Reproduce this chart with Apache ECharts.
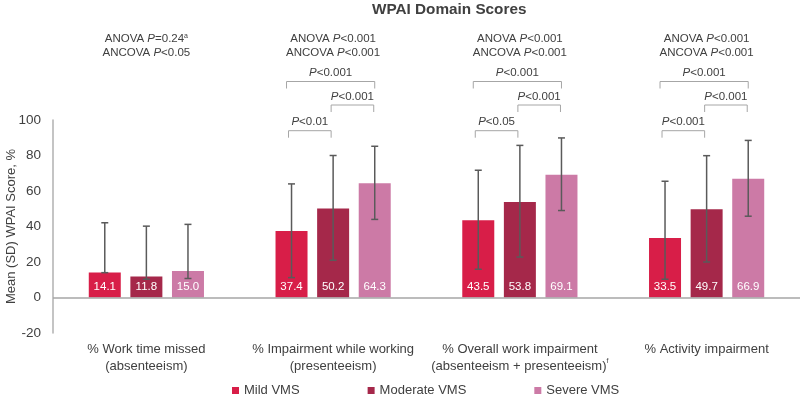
<!DOCTYPE html>
<html><head><meta charset="utf-8">
<script src="https://cdn.jsdelivr.net/npm/echarts@6/dist/echarts.min.js"></script>
<style>html,body{margin:0;padding:0;background:#fff}#c{width:800px;height:400px}</style>
</head><body><div id="c"></div>
<script>
// ---- data ----
const categories = ['% Work time missed\n(absenteeism)', '% Impairment while working\n(presenteeism)', '% Overall work impairment\n(absenteeism + presenteeism)', '% Activity impairment'];
const categoryFootnotes = ['', '', 'f', ''];
const seriesNames = ['Mild VMS', 'Moderate VMS', 'Severe VMS'];
const mild = [14.1, 37.4, 43.5, 33.5];
const moderate = [11.8, 50.2, 53.8, 49.7];
const severe = [15.0, 64.3, 69.1, 66.9];
const mildLow = [14.0, 11.2, 15.9, 10.3];
const mildHigh = [42.1, 64.0, 71.7, 65.5];
const moderateLow = [10.3, 21.0, 22.8, 20.0];
const moderateHigh = [40.2, 80.0, 85.7, 79.9];
const severeLow = [10.7, 44.0, 49.0, 45.8];
const severeHigh = [41.2, 85.2, 89.9, 88.5];
const yMin = -20, yMax = 100, yInterval = 20;
const anovaP = ['=0.24', '<0.001', '<0.001', '<0.001'];
const anovaSup = ['a', '', '', ''];
const ancovaP = ['<0.05', '<0.001', '<0.001', '<0.001'];
const pMildSevere = [null, '<0.001', '<0.001', '<0.001'];
const pModSevere = [null, '<0.001', '<0.001', '<0.001'];
const pMildMod = [null, '<0.01', '<0.05', '<0.001'];

// ---- style ----
const FONT = '"Liberation Sans", Arial, Helvetica, sans-serif';
const TXT = '#404040';
const colors = ['#D81E48', '#A5284A', '#CC7AA6'];
const BAR_W = 32, BAR_GAP = 0.3;
const OFFSET = BAR_W * (1 + BAR_GAP);
const richP = {
  i: {fontStyle: 'italic', fontSize: 11.5, fontFamily: FONT, fill: TXT, color: TXT},
  n: {fontSize: 11.5, fontFamily: FONT, fill: TXT, color: TXT},
  sup: {fontSize: 7, fontFamily: FONT, fill: TXT, color: TXT, verticalAlign: 'top', lineHeight: 8}
};

const chart = echarts.init(document.getElementById('c'), null, {renderer: 'canvas'});

const valueSets = [mild, moderate, severe];
const lowSets = [mildLow, moderateLow, severeLow];
const highSets = [mildHigh, moderateHigh, severeHigh];

const barSeries = seriesNames.map((name, s) => ({
  name, type: 'bar', data: valueSets[s], barWidth: BAR_W, barGap: (BAR_GAP * 100) + '%',
  itemStyle: {color: colors[s]},
  label: {show: true, position: 'insideBottom', distance: 5, color: '#fff', fontSize: 11.5, fontFamily: FONT,
    formatter: p => Number(p.value).toFixed(1)},
  markLine: s === 0 ? {silent: true, symbol: 'none', label: {show: false}, animation: false,
    lineStyle: {color: '#a6a6a6', width: 1.5, type: 'solid'}, data: [{yAxis: 0}]} : undefined
}));

const errSeries = seriesNames.map((name, s) => ({
  name: name + ' SD', type: 'custom', z: 3,
  data: categories.map((c, i) => [i, lowSets[s][i], highSets[s][i]]),
  encode: {x: 0, y: [1, 2]},
  renderItem: (params, api) => {
    const i = api.value(0);
    const x = api.coord([i, 0])[0] + (s - 1) * OFFSET;
    const yl = api.coord([i, api.value(1)])[1];
    const yh = api.coord([i, api.value(2)])[1];
    const st = {stroke: '#5a5a5a', lineWidth: 1.5};
    return {type: 'group', children: [
      {type: 'line', shape: {x1: x, y1: yl, x2: x, y2: yh}, style: st},
      {type: 'line', shape: {x1: x - 3.5, y1: yh, x2: x + 3.5, y2: yh}, style: st},
      {type: 'line', shape: {x1: x - 3.5, y1: yl, x2: x + 3.5, y2: yl}, style: st}
    ]};
  }
}));

function txt(x, y, text) {
  return {type: 'text', x, y, style: {text, align: 'center', verticalAlign: 'middle',
    fontSize: 11.5, fontFamily: FONT, fill: TXT, rich: richP}};
}
function bracket(x1, x2, y, label) {
  return [
    {type: 'polyline', shape: {points: [[x1, y + 7], [x1, y], [x2, y], [x2, y + 7]]},
      style: {stroke: '#a6a6a6', lineWidth: 1, fill: 'none'}},
    txt((x1 + x2) / 2, y - 8.5, '{i|P}{n|' + label + '}')
  ];
}

const annoSeries = {
  name: 'annotations', type: 'custom', clip: false, silent: true,
  data: categories.map((c, i) => [i, 0]),
  encode: {x: 0, y: 1},
  renderItem: (params, api) => {
    const i = api.value(0);
    const p = api.coord([i, yMax]);
    const cx = p[0], yTop = p[1];
    let ch = [
      txt(cx, yTop - 81, '{n|ANOVA }{i|P}{n|' + anovaP[i] + '}' + (anovaSup[i] ? '{sup|' + anovaSup[i] + '}' : '')),
      txt(cx, yTop - 67, '{n|ANCOVA }{i|P}{n|' + ancovaP[i] + '}')
    ];
    if (pMildSevere[i]) ch = ch.concat(bracket(cx - OFFSET - 5, cx + OFFSET, yTop - 38.5, pMildSevere[i]));
    if (pModSevere[i]) ch = ch.concat(bracket(cx - 2, cx + OFFSET - 1, yTop - 15, pModSevere[i]));
    if (pMildMod[i]) ch = ch.concat(bracket(cx - OFFSET - 3, cx - 2, yTop + 10.7, pMildMod[i]));
    return {type: 'group', children: ch};
  }
};

chart.setOption({
  animation: false,
  textStyle: {fontFamily: FONT},
  title: {text: 'WPAI Domain Scores', left: 372, top: 2, padding: 0,
    textStyle: {fontSize: 15.3, fontWeight: 'bold', color: TXT, fontFamily: FONT}},
  legend: {data: seriesNames, left: 232, top: 384, itemWidth: 7, itemHeight: 7, itemGap: 68, icon: 'rect',
    textStyle: {fontSize: 13, color: TXT, fontFamily: FONT}, padding: 0},
  grid: {left: 53, right: 0, top: 120, bottom: 67, containLabel: false, outerBoundsMode: 'none'},
  xAxis: {type: 'category', data: categories,
    axisLine: {show: false, onZero: false}, axisTick: {show: false},
    axisLabel: {interval: 0, fontSize: 13, lineHeight: 17, color: TXT, margin: 8, fontFamily: FONT,
      formatter: (v, idx) => v + (categoryFootnotes[idx] ? '{sup|' + categoryFootnotes[idx] + '}' : ''),
      rich: {sup: {fontSize: 7, color: TXT, fontFamily: FONT, verticalAlign: 'top', lineHeight: 10}}}},
  yAxis: {type: 'value', min: yMin, max: yMax, interval: yInterval,
    axisLine: {show: true, lineStyle: {color: '#b0b0b0', width: 1.5}},
    axisTick: {show: false}, splitLine: {show: false},
    axisLabel: {fontSize: 13.5, color: TXT, margin: 12, fontFamily: FONT},
    name: 'Mean (SD) WPAI Score, %', nameLocation: 'middle', nameGap: 35, nameMoveOverlap: false,
    nameTextStyle: {fontSize: 13, color: TXT, fontFamily: FONT}},
  series: [...barSeries, ...errSeries, annoSeries]
});
</script>
</body></html>
